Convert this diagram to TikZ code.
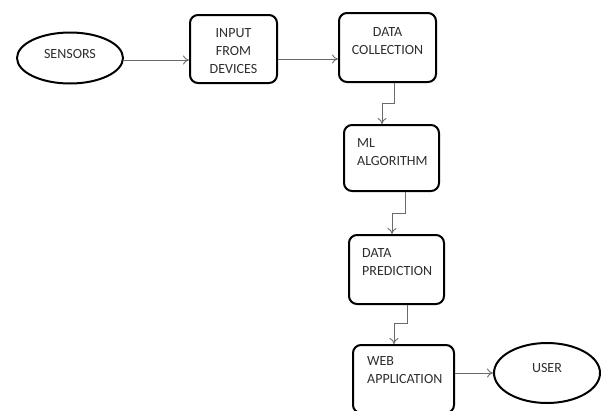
\documentclass[tikz,border=0pt]{standalone}
\usepackage{fontspec}
\setmainfont{Carlito}
\usetikzlibrary{shapes.geometric,arrows.meta}
\definecolor{ink}{HTML}{2E2E2E}
\definecolor{wire}{HTML}{6A6A6A}
\tikzset{
  box/.style={draw=black, line width=2pt, rounded corners=8pt, inner sep=0pt},
  oval/.style={draw=black, line width=2pt, ellipse, inner sep=0pt},
  txt/.style={text=ink, font=\fontsize{14}{18}\selectfont, inner sep=0pt},
  conn/.style={draw=wire, line width=0.9pt, -{To[length=6pt,width=9pt]}},
}
\begin{document}
\begin{tikzpicture}[x=1pt,y=-1pt]
\useasboundingbox (0,0) rectangle (601,410);
\fill[white] (0,0) rectangle (601,410);

% end points
\node[oval, minimum width=106pt, minimum height=51pt] (sens) at (70,58) {};
\node[txt] (senst) at (70,54) {SENSORS};
\node[oval, minimum width=106pt, minimum height=60pt] (user) at (547,373) {};
\node[txt] (usert) at (547,368) {USER};

% processing steps
\node[box, minimum width=87pt, minimum height=68pt] (inp) at (233.5,49) {};
\node[txt, align=center] (inpt) at (233.5,51) {INPUT\\FROM\\DEVICES};

\node[box, minimum width=97pt, minimum height=69pt] (dc) at (387.5,47.5) {};
\node[txt, align=center] (dct) at (387.5,41) {DATA\\COLLECTION};

\node[box, minimum width=95pt, minimum height=66pt] (ml) at (391.5,158) {};
\node[txt, align=left, anchor=west] (mlt) at (357,152.5) {ML\\ALGORITHM};

\node[box, minimum width=95pt, minimum height=69pt] (pred) at (396.5,269.5) {};
\node[txt, align=left, anchor=west] (predt) at (362,262) {DATA\\PREDICTION};

\node[box, minimum width=101pt, minimum height=68pt] (web) at (403.5,379) {};
\node[txt, align=left, anchor=west] (webt) at (367,370) {WEB\\APPLICATION};

% connectors
\draw[conn] (sens.east |- 0,60) -- (inp.west |- 0,60);
\draw[conn] (inp.east |- 0,59) -- (dc.west |- 0,59);
\draw[conn] ([xshift=6.5pt]dc.south) |- ([xshift=-9.5pt,yshift=21pt]ml.north) -- ([xshift=-9.5pt]ml.north);
\draw[conn] ([xshift=13.5pt]ml.south) |- ([xshift=-4.5pt,yshift=21pt]pred.north) -- ([xshift=-4.5pt]pred.north);
\draw[conn] ([xshift=10.5pt]pred.south) |- ([xshift=-9.5pt,yshift=21pt]web.north) -- ([xshift=-9.5pt]web.north);
\draw[conn] (web.east |- 0,373) -- (user.west);
\end{tikzpicture}
\end{document}
